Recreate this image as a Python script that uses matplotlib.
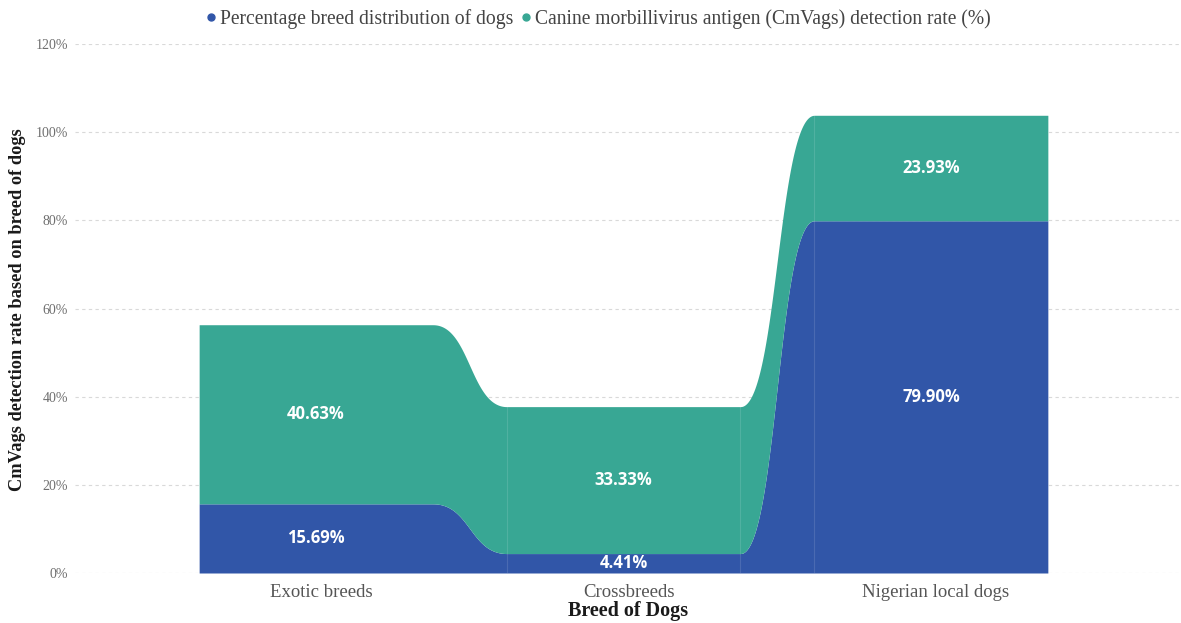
import numpy as np
import matplotlib
matplotlib.use("Agg")
import matplotlib.pyplot as plt
from matplotlib.lines import Line2D
from matplotlib.transforms import ScaledTranslation

# Data
categories = ["Exotic breeds", "Crossbreeds", "Nigerian local dogs"]
breed_share = [15.69, 4.41, 79.90]          # Percentage breed distribution of dogs
detection_rate = [40.63, 33.33, 23.93]      # CmVags detection rate (%)
series_names = ["Percentage breed distribution of dogs",
                "Canine morbillivirus antigen (CmVags) detection rate (%)"]
y_ticks = [0, 20, 40, 60, 80, 100, 120]

BLUE = "#3156a8"
TEAL = "#38a794"
SERIF = "Liberation Serif"

fig = plt.figure(figsize=(11.81, 6.23), dpi=100)
ax = fig.add_axes([75 / 1181, 50 / 623, 1106 / 1181, 529 / 623])

centers = np.arange(len(categories), dtype=float)
half_w = 0.38  # half width of each category block


def ribbon(lower, upper, n=80):
    """Flat blocks at each category joined by horizontal-tangent cubic curves."""
    xs, lo, hi = [], [], []
    for i, c in enumerate(centers):
        xs += [c - half_w, c + half_w]
        lo += [lower[i], lower[i]]
        hi += [upper[i], upper[i]]
        if i < len(centers) - 1:
            x0, x1 = c + half_w, centers[i + 1] - half_w
            xm = (x0 + x1) / 2
            t = np.linspace(0, 1, n)[1:-1]
            b0, b1, b2, b3 = (1 - t) ** 3, 3 * (1 - t) ** 2 * t, 3 * (1 - t) * t ** 2, t ** 3
            xs += list(b0 * x0 + (b1 + b2) * xm + b3 * x1)
            lo += list((b0 + b1) * lower[i] + (b2 + b3) * lower[i + 1])
            hi += list((b0 + b1) * upper[i] + (b2 + b3) * upper[i + 1])
    return np.array(xs), np.array(lo), np.array(hi)


base = np.zeros(len(categories))
blue_top = np.array(breed_share)
green_top = blue_top + np.array(detection_rate)

x, lo, hi = ribbon(base, blue_top)
ax.fill_between(x, lo, hi, color=BLUE, lw=0, zorder=2)
x, lo, hi = ribbon(blue_top, green_top)
ax.fill_between(x, lo, hi, color=TEAL, lw=0, zorder=2)

# faint separators at the inner block edges
for i, c in enumerate(centers):
    for edge in (c - half_w, c + half_w):
        if i == 0 or (i == len(centers) - 1 and edge > c):
            continue
        ax.plot([edge, edge], [0, green_top[i]], color="white", alpha=0.12, lw=0.8, zorder=3)

# value labels
label_kw = dict(ha="center", va="center", color="white", fontsize=12,
                fontweight="bold", family="Open Sans", zorder=4)
for i, c in enumerate(centers):
    ax.text(c, breed_share[i] / 2, f"{breed_share[i]:.2f}%", **label_kw)
    ax.text(c, breed_share[i] + detection_rate[i] / 2, f"{detection_rate[i]:.2f}%", **label_kw)

# axes styling
ax.set_xlim((75 - 316) / 307.5, (1181 - 316) / 307.5)
ax.set_ylim(0, 120)
ax.set_yticks(y_ticks)
ax.set_yticklabels([f"{v}%" for v in y_ticks], family=SERIF, fontsize=10, color="#6e6e6e")
ax.set_xticks(centers)
ax.set_xticklabels(categories, family=SERIF, fontsize=13.5, color="#555555")
ax.tick_params(axis="both", length=0)
ax.tick_params(axis="y", pad=5)
ax.tick_params(axis="x", pad=8)
shift = ScaledTranslation(5 / 100, 0, fig.dpi_scale_trans)
for lbl in ax.get_xticklabels():
    lbl.set_transform(lbl.get_transform() + shift)
for s in ax.spines.values():
    s.set_visible(False)
ax.grid(axis="y", color="#d9d9d9", ls=(0, (3, 3)), lw=0.8, zorder=0)
ax.set_axisbelow(True)

ax.set_xlabel("Breed of Dogs", family=SERIF, fontsize=14.5, fontweight="bold", color="#1a1a1a", labelpad=0)
fig.text(18 / 1181, 1 - 310 / 623, "CmVags detection rate based on breed of dogs", rotation=90,
         ha="center", va="center", family=SERIF, fontsize=13.2, fontweight="bold", color="#1a1a1a")

handles = [Line2D([], [], marker="o", ls="", color=BLUE, markersize=5),
           Line2D([], [], marker="o", ls="", color=TEAL, markersize=5)]
leg = fig.legend(handles, series_names, loc="center", bbox_to_anchor=(598 / 1181, 1 - 19 / 623),
                 ncol=2, frameon=False, handlelength=0.6, handletextpad=0.15, columnspacing=0.35,
                 prop={"family": SERIF, "size": 14.1})
for t in leg.get_texts():
    t.set_color("#444444")

fig.savefig("out.png", dpi=100, facecolor="white")
